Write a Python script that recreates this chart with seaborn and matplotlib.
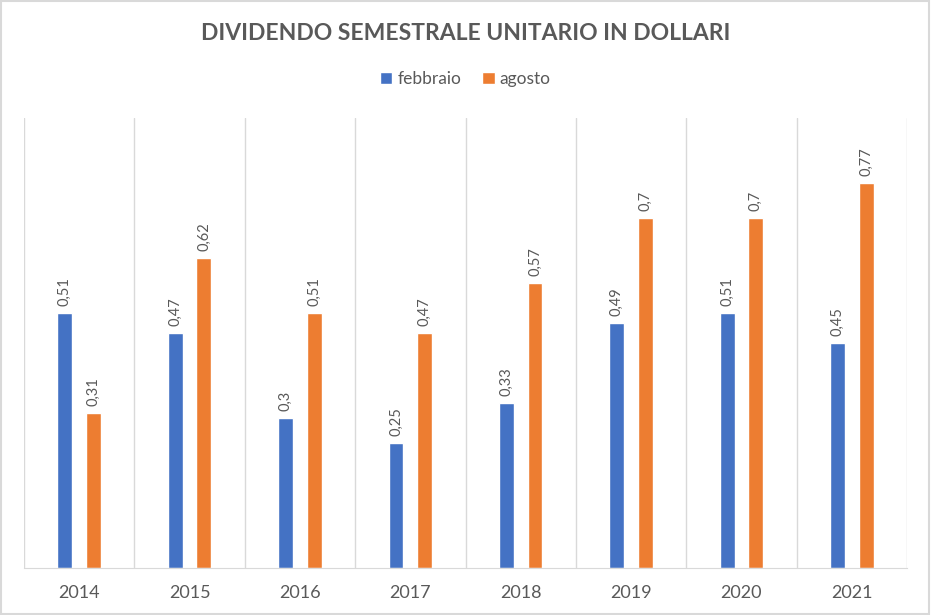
import pandas as pd
import seaborn as sns
import matplotlib.pyplot as plt
from matplotlib.patches import Rectangle
import numpy as np

# Dati
anni = ['2014', '2015', '2016', '2017', '2018', '2019', '2020', '2021']
febbraio = [0.51, 0.47, 0.30, 0.25, 0.33, 0.49, 0.51, 0.45]
agosto = [0.31, 0.62, 0.51, 0.47, 0.57, 0.70, 0.70, 0.77]
serie = ['febbraio', 'agosto']
colori = ['#4472C4', '#ED7D31']

df = pd.DataFrame({
    'anno': anni * 2,
    'valore': febbraio + agosto,
    'mese': ['febbraio'] * len(anni) + ['agosto'] * len(anni),
})

sns.set_style('white')
plt.rcParams['font.family'] = ['Lato', 'DejaVu Sans']
grigio = '#595959'

fig = plt.figure(figsize=(9.31, 6.15), dpi=100)
ax = fig.add_axes([0.0258, 0.0764, 0.9484, 0.7316])

sns.barplot(data=df, x='anno', y='valore', hue='mese', hue_order=serie,
            palette=colori, width=0.52, gap=0.48, ax=ax, saturation=1,
            errorbar=None)

# Etichette dei dati
for cont in ax.containers:
    etichette = [f"{b.get_height():g}".replace('.', ',') for b in cont]
    ax.bar_label(cont, labels=etichette, rotation=90, padding=5,
                 fontsize=10.5, color=grigio)

ax.set_ylim(0, 0.9)
ax.set_xlim(-0.5, len(anni) - 0.5)
ax.set_yticks([])
ax.set_xlabel('')
ax.set_ylabel('')

# Separatori verticali tra le categorie
ax.set_xticks(np.arange(-0.5, len(anni)), minor=True)
ax.grid(which='minor', axis='x', color='#D9D9D9', linewidth=1)
ax.tick_params(axis='x', which='both', length=0, pad=12,
               labelsize=13, labelcolor=grigio)
for s in ['top', 'left', 'right']:
    ax.spines[s].set_visible(False)
ax.spines['bottom'].set_color('#D9D9D9')

# Legenda
ax.legend(loc='center', bbox_to_anchor=(0.5, 1.086), ncol=2, frameon=False,
          handlelength=0.7, handleheight=0.7, handletextpad=0.3,
          columnspacing=1.2, fontsize=12.5, labelcolor=grigio)

fig.suptitle('DIVIDENDO SEMESTRALE UNITARIO IN DOLLARI', y=0.962,
             fontsize=16.5, fontweight='bold', color=grigio)

# Bordo del grafico
fig.patches.append(Rectangle((0.001, 0.001), 0.997, 0.997, transform=fig.transFigure,
                             fill=False, edgecolor='#D9D9D9', linewidth=1.5))

fig.savefig('out.png', dpi=100)
